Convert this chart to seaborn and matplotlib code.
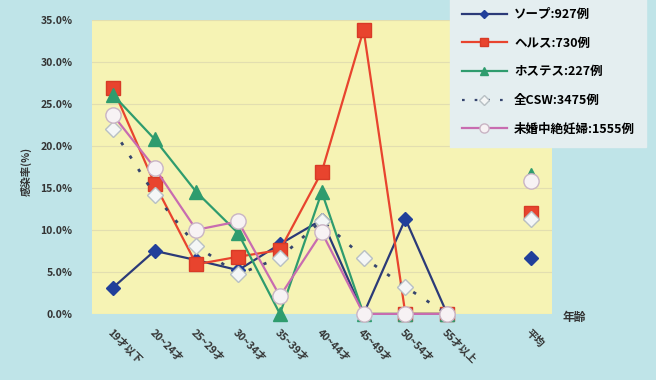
import matplotlib
matplotlib.use("Agg")
import matplotlib.pyplot as plt
import seaborn as sns
import numpy as np
import pandas as pd
from matplotlib.lines import Line2D

# age groups (x categories), index 9 left empty, 10 = average
age_labels = ["19才以下", "20~24才", "25~29才", "30~34才", "35~39才",
              "40~44才", "45~49才", "50~54才", "55才以上"]
avg_label = "平均"

series_names = ["ソープ:927例", "ヘルス:730例", "ホステス:227例",
                "全CSW:3475例", "未婚中絶妊婦:1555例"]

soap = [3.1, 7.5, 6.4, 5.2, 8.3, 11.2, 0.0, 11.3, 0.0]
health = [26.9, 15.5, 5.9, 6.8, 7.6, 16.9, 33.8, 0.0, 0.0]
hostess = [26.1, 20.8, 14.5, 9.6, 0.0, 14.5, 0.0, 0.0, 0.0]
all_csw = [22.0, 14.2, 8.1, 4.7, 6.7, 11.1, 6.7, 3.2, 0.0]
unmarried = [23.7, 17.4, 10.0, 11.0, 2.1, 9.7, 0.0, 0.0, 0.0]

averages = [6.7, 12.0, 16.5, 11.3, 15.8]

plt.rcParams['font.family'] = ['Noto Sans CJK JP', 'DejaVu Sans']

bg = "#bfe4e8"
plot_bg = "#f6f3b4"

styles = [
    dict(color="#2b3a78", lw=1.6, ls="-", marker="D", ms=7, mfc="#213f9a", mec="#213f9a"),
    dict(color="#e8442e", lw=1.6, ls="-", marker="s", ms=10, mfc="#e8442e", mec="#d83a26"),
    dict(color="#2f9c6e", lw=1.6, ls="-", marker="^", ms=10, mfc="#2f9c6e", mec="#2f9c6e"),
    dict(color="#36456e", lw=2.0, ls=(0, (1.2, 4.5)), marker="D", ms=8, mfc="#f4f6f6", mec="#b8c0c4"),
    dict(color="#c86cb0", lw=1.6, ls="-", marker="o", ms=11, mfc="#f7f2f4", mec="#c9b4c4"),
]
all_values = [soap, health, hostess, all_csw, unmarried]

fig = plt.figure(figsize=(6.56, 3.8), dpi=100)
fig.patch.set_facecolor(bg)
ax = fig.add_axes([0.140, 0.174, 0.701, 0.774])
ax.set_facecolor(plot_bg)

x = np.arange(len(age_labels))
for name, vals, st in zip(series_names, all_values, styles):
    df = pd.DataFrame({"age": x, "rate": vals})
    sns.lineplot(data=df, x="age", y="rate", ax=ax, color=st["color"],
                 linewidth=st["lw"], linestyle=st["ls"], marker=st["marker"],
                 markersize=st["ms"], markerfacecolor=st["mfc"],
                 markeredgecolor=st["mec"], markeredgewidth=1.0,
                 clip_on=False, zorder=3)

# averages at the far right, not connected
avg_x = 10
for val, st in zip(averages, styles):
    ax.plot([avg_x], [val], linestyle="none", marker=st["marker"], markersize=st["ms"],
            markerfacecolor=st["mfc"], markeredgecolor=st["mec"],
            markeredgewidth=1.0, clip_on=False, zorder=3)

ax.set_xlim(-0.5, 10.5)
ax.set_ylim(0, 35)
ax.set_yticks(np.arange(0, 36, 5))
ax.set_yticklabels([f"{v:.1f}%" for v in np.arange(0, 36, 5)],
                   fontsize=7.5, fontweight="bold", color="#333333")
ax.yaxis.grid(True, color="#e2deb0", lw=0.8)
ax.set_axisbelow(True)
ax.tick_params(axis="y", length=0, pad=14)

ax.set_xticks(list(x) + [avg_x])
ax.set_xticklabels(age_labels + [avg_label], rotation=-45, ha="left", va="top",
                   rotation_mode="anchor", fontsize=7.5, fontweight="bold", color="#333333")
ax.tick_params(axis="x", length=0, pad=10)

ax.set_xlabel("")
ax.set_ylabel("")
for s in ax.spines.values():
    s.set_visible(False)

fig.text(0.040, 0.55, "感染率(%)", rotation=90, ha="center", va="center",
         fontsize=7.5, fontweight="bold", color="#333333")
fig.text(0.875, 0.165, "年齢", ha="center", va="center",
         fontsize=8.5, fontweight="bold", color="#333333")

handles = [Line2D([0], [0], color=st["color"], lw=1.6, ls=st["ls"], marker=st["marker"],
                  markersize=st["ms"] * 0.6, markerfacecolor=st["mfc"],
                  markeredgecolor=st["mec"]) for st in styles]
leg = fig.legend(handles, series_names, loc="upper right", bbox_to_anchor=(0.995, 1.025),
                 frameon=True, fancybox=False, handlelength=3.6, handletextpad=0.6,
                 labelspacing=1.25, borderpad=0.9,
                 prop={"weight": "bold", "size": 9})
leg.get_frame().set_facecolor("#e4eef0")
leg.get_frame().set_edgecolor("#e4eef0")
leg.get_frame().set_alpha(1.0)

fig.savefig("out.png", dpi=100, facecolor=bg)
